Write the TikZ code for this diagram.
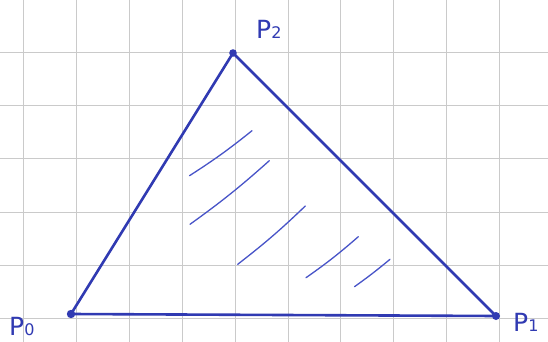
\documentclass[tikz,border=0pt]{standalone}
\usepackage{fontspec}
\setmainfont{DejaVu Sans}
\definecolor{pen}{RGB}{48,58,178}
\definecolor{penlight}{RGB}{72,84,200}
\definecolor{gridgray}{RGB}{202,202,202}
\tikzset{
  gridline/.style={draw=gridgray, line width=0.9pt},
  edge/.style={draw=pen, line width=2.6pt, line join=round, line cap=round},
  hatchline/.style={draw=penlight, line width=1.3pt, line cap=round},
  vdot/.style={fill=pen},
  lbl/.style={text=pen, inner sep=0pt, font=\fontsize{25}{27}\selectfont},
}
\newcommand{\sublbl}[1]{{\fontsize{16}{18}\selectfont #1}}
\begin{document}
\begin{tikzpicture}[x=1pt,y=-1pt]
\useasboundingbox (0,0) rectangle (548,342);
\fill[white] (0,0) rectangle (548,342);
% grid
\foreach \gx in {23.5,76.4,129.3,182.2,235.1,288,340.9,393.8,446.7,499.6}
  \draw[gridline] (\gx,0) -- (\gx,342);
\foreach \gy in {52,105.3,158.6,212,265.3,318.6}
  \draw[gridline] (0,\gy) -- (548,\gy);
% vertices
\coordinate (P0) at (71,314);
\coordinate (P1) at (496,316);
\coordinate (P2) at (233,53);
% hatching
\coordinate (h1a) at (189.5,175.7); \coordinate (h1b) at (252,130.7);
\coordinate (h2a) at (190,224.3);   \coordinate (h2b) at (269.3,160.7);
\coordinate (h3a) at (237.7,264.3); \coordinate (h3b) at (305.3,206);
\coordinate (h4a) at (306,277.7);   \coordinate (h4b) at (358.3,236.7);
\coordinate (h5a) at (354.5,286.7); \coordinate (h5b) at (390,259.3);
\draw[hatchline] (h1a) to[bend right=3] (h1b);
\draw[hatchline] (h2a) to[bend right=3] (h2b);
\draw[hatchline] (h3a) to[bend right=3] (h3b);
\draw[hatchline] (h4a) to[bend right=3] (h4b);
\draw[hatchline] (h5a) to[bend right=2] (h5b);
% triangle
\draw[edge] (P0) -- (P1) -- (P2) -- cycle;
\fill[vdot] (P0) circle (4.2);
\fill[vdot] (P1) circle (4);
\fill[vdot] (P2) circle (3.8);
% labels
\node[lbl, anchor=base west] (L0) at (9,335.5) {P\sublbl{0}};
\node[lbl, anchor=base west] (L1) at (513,331) {P\sublbl{1}};
\node[lbl, anchor=base west] (L2) at (256,39) {P\sublbl{2}};
\end{tikzpicture}
\end{document}
